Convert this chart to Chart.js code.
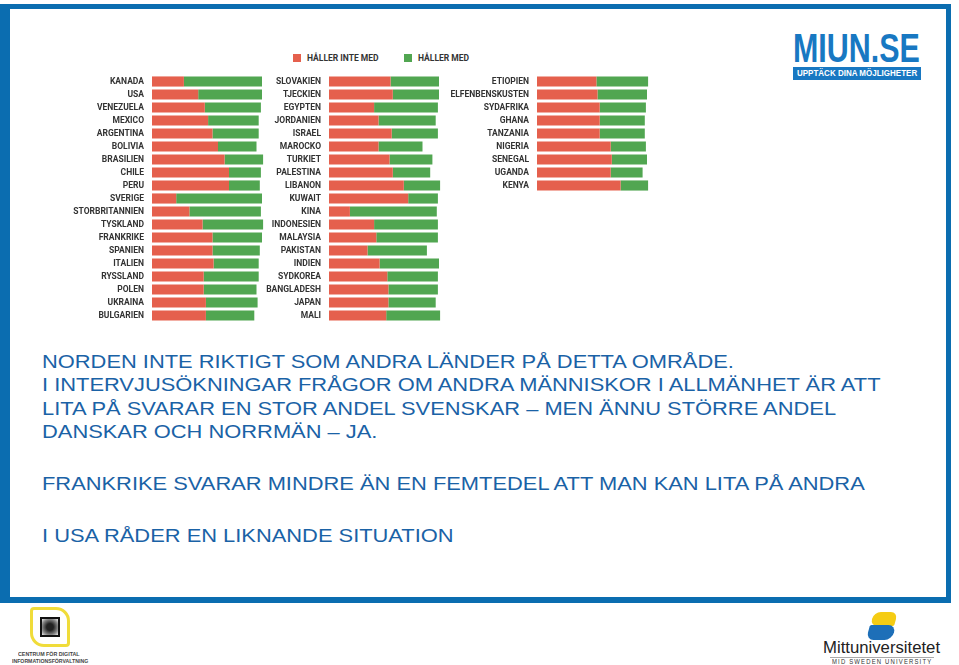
<!DOCTYPE html>
<html>
<head>
<meta charset="utf-8">
<script src="https://cdn.jsdelivr.net/npm/chart.js@4.4.1/dist/chart.umd.min.js"></script>
<style>
  html, body { margin: 0; padding: 0; background: #fff; }
  body { width: 959px; height: 665px; position: relative; overflow: hidden; font-family: "Liberation Sans", Arial, sans-serif; }
  .frame { position: absolute; left: 0; top: 4px; width: 936px; height: 588px; border-style: solid; border-color: #0b6db0; border-width: 5px 5px 6px 10px; background: #fff; }
  .panel { position: absolute; top: 75px; }
  .legend { position: absolute; top: 53px; left: 293px; font: bold 8.5px Roboto, sans-serif; color: #333; }
  .legend span.item { position: absolute; white-space: nowrap; top: 0; }
  .legend i { display: inline-block; width: 8px; height: 8px; margin-right: 6px; vertical-align: -1px; }
  .fit { position: absolute; white-space: nowrap; transform-origin: 0 0; }
  .txt { left: 42px; color: #1a62a6; font-size: 19px; line-height: 23.3px; }
  .miun { left: 793px; top: 28px; color: #1878c2; font: bold 40px "Liberation Sans", sans-serif; line-height: 40px; }
  .miun-box { position: absolute; left: 793px; top: 67px; width: 128px; height: 13px; background: #1878c2; }
  .miun-tag { left: 797px; top: 67px; color: #fff; font: bold 9px "Liberation Sans", sans-serif; line-height: 13px; }
  .cdi { position: absolute; left: 30px; top: 607px; width: 34px; height: 34px; border: 3px solid #f0dc3a; border-radius: 4px 14px 4px 14px; }
  .cdi b { position: absolute; left: 7px; top: 7px; width: 20px; height: 20px; background: radial-gradient(circle, #222 30%, #888 70%, #eee 100%); border: 2px solid #111; box-sizing: border-box; }
  .cdi-txt { top: 651px; font: bold 6px "Liberation Sans", sans-serif; color: #444; line-height: 7.5px; }
  .mu-shape { position: absolute; left: 868px; top: 612px; width: 30px; height: 28px; }
  .mu-shape .y { position: absolute; left: 4px; top: 0; width: 24px; height: 14px; background: #f5cc14; border-radius: 10px 10px 2px 10px; transform: skewX(-15deg); }
  .mu-shape .b { position: absolute; left: 0; top: 13px; width: 26px; height: 15px; background: #1d6fb8; border-radius: 2px 10px 10px 10px; transform: skewX(-15deg); }
  .mu-name { left: 823px; top: 638px; font: 17px "Liberation Sans", sans-serif; color: #222; }
  .mu-line { position: absolute; left: 830px; top: 657px; width: 104px; height: 1px; background: #aaa; }
  .mu-sub { left: 832px; top: 658px; font: 6.5px "Liberation Sans", sans-serif; color: #333; letter-spacing: 1.3px; }
</style>
</head>
<body>
<div class="frame"></div>

<div class="legend" id="legend"></div>

<canvas id="c1" class="panel" width="221" height="247" style="left:52px"></canvas>
<canvas id="c2" class="panel" width="221" height="247" style="left:229px"></canvas>
<canvas id="c3" class="panel" width="221" height="117" style="left:437px"></canvas>

<div class="fit miun" data-w="127">MIUN.SE</div>
<div class="miun-box"></div>
<div class="fit miun-tag" data-w="120">UPPTÄCK DINA MÖJLIGHETER</div>

<div class="fit txt" id="t1" style="top:350px">NORDEN INTE RIKTIGT SOM ANDRA LÄNDER PÅ DETTA OMRÅDE.<br>I INTERVJUSÖKNINGAR FRÅGOR OM ANDRA MÄNNISKOR I ALLMÄNHET ÄR ATT<br>LITA PÅ SVARAR EN STOR ANDEL SVENSKAR – MEN ÄNNU STÖRRE ANDEL<br>DANSKAR OCH NORRMÄN – JA.</div>
<div class="fit txt" id="t2" style="top:472px">FRANKRIKE SVARAR MINDRE ÄN EN FEMTEDEL ATT MAN KAN LITA PÅ ANDRA</div>
<div class="fit txt" id="t3" style="top:524px">I USA RÅDER EN LIKNANDE SITUATION</div>

<div class="cdi"><b></b></div>
<div class="fit cdi-txt" style="left:18px" data-w="62">CENTRUM FÖR DIGITAL</div>
<div class="fit cdi-txt" style="left:12px;top:658px" data-w="76">INFORMATIONSFÖRVALTNING</div>

<div class="mu-shape"><div class="y"></div><div class="b"></div></div>
<div class="fit mu-name" data-w="117">Mittuniversitetet</div>
<div class="mu-line"></div>
<div class="fit mu-sub" data-w="100">MID SWEDEN UNIVERSITY</div>

<script>
const seriesNames = ['HÅLLER INTE MED', 'HÅLLER MED'];
const RED = '#e5604d';
const GREEN = '#51a651';

// Amerika och Europa
const countries1 = ['KANADA', 'USA', 'VENEZUELA', 'MEXICO', 'ARGENTINA', 'BOLIVIA', 'BRASILIEN', 'CHILE', 'PERU',
  'SVERIGE', 'STORBRITANNIEN', 'TYSKLAND', 'FRANKRIKE', 'SPANIEN', 'ITALIEN', 'RYSSLAND', 'POLEN', 'UKRAINA', 'BULGARIEN'];
const disagree1 = [29, 42, 48, 51, 55, 60, 66, 70, 70, 22, 34, 46, 55, 55, 56, 47, 47, 49, 49];
const agree1    = [71, 58, 51, 46, 42, 35, 35, 29, 28, 78, 65, 55, 45, 43, 41, 50, 48, 47, 44];

// Europa, Mellanöstern och Asien
const countries2 = ['SLOVAKIEN', 'TJECKIEN', 'EGYPTEN', 'JORDANIEN', 'ISRAEL', 'MAROCKO', 'TURKIET', 'PALESTINA', 'LIBANON',
  'KUWAIT', 'KINA', 'INDONESIEN', 'MALAYSIA', 'PAKISTAN', 'INDIEN', 'SYDKOREA', 'BANGLADESH', 'JAPAN', 'MALI'];
const disagree2 = [56, 58, 41, 45, 57, 45, 55, 58, 68, 72, 19, 41, 43, 35, 46, 53, 54, 54, 52];
const agree2    = [44, 42, 58, 52, 42, 40, 39, 34, 33, 27, 79, 58, 56, 54, 54, 46, 45, 43, 49];

// Afrika
const countries3 = ['ETIOPIEN', 'ELFENBENSKUSTEN', 'SYDAFRIKA', 'GHANA', 'TANZANIA', 'NIGERIA', 'SENEGAL', 'UGANDA', 'KENYA'];
const disagree3 = [54, 55, 57, 57, 57, 67, 68, 67, 76];
const agree3    = [47, 45, 42, 41, 41, 32, 32, 29, 25];

const labelFont = { family: 'Roboto, sans-serif', size: 8.5, weight: 'bold' };

function createGraph(element, labels, red, green) {
  new Chart(element, {
    type: 'bar',
    data: {
      labels,
      datasets: [
        { label: seriesNames[0], data: red, backgroundColor: RED },
        { label: seriesNames[1], data: green, backgroundColor: GREEN }
      ]
    },
    options: {
      indexAxis: 'y',
      responsive: false,
      animation: false,
      layout: { padding: 0 },
      datasets: { bar: { barPercentage: 0.78, categoryPercentage: 1 } },
      plugins: { legend: { display: false }, tooltip: { enabled: false } },
      scales: {
        x: { stacked: true, min: 0, max: 110, display: false },
        y: {
          stacked: true,
          grid: { display: false, drawTicks: false },
          border: { display: false },
          ticks: { color: '#333', font: labelFont, padding: 8, autoSkip: false },
          afterFit: (scale) => {
            scale.width = 100
            scale.paddingTop = 0
            scale.paddingBottom = 0
          }
        }
      }
    }
  })
}

createGraph(document.getElementById('c1'), countries1, disagree1, agree1)
createGraph(document.getElementById('c2'), countries2, disagree2, agree2)
createGraph(document.getElementById('c3'), countries3, disagree3, agree3)

// legend
const legend = document.getElementById('legend');
legend.innerHTML =
  `<span class="item" style="left:0"><i style="background:${RED}"></i>${seriesNames[0]}</span>` +
  `<span class="item" style="left:111px"><i style="background:${GREEN}"></i>${seriesNames[1]}</span>`;

// squeeze / stretch decorative text to the widths in the picture
document.querySelectorAll('.fit[data-w]').forEach(el => {
  el.style.transform = `scaleX(${el.dataset.w / el.offsetWidth})`
})
const t1 = document.getElementById('t1');
const k = 838 / t1.offsetWidth;
['t1', 't2', 't3'].forEach(id => {
  document.getElementById(id).style.transform = `scaleX(${k})`
})
</script>
</body>
</html>
